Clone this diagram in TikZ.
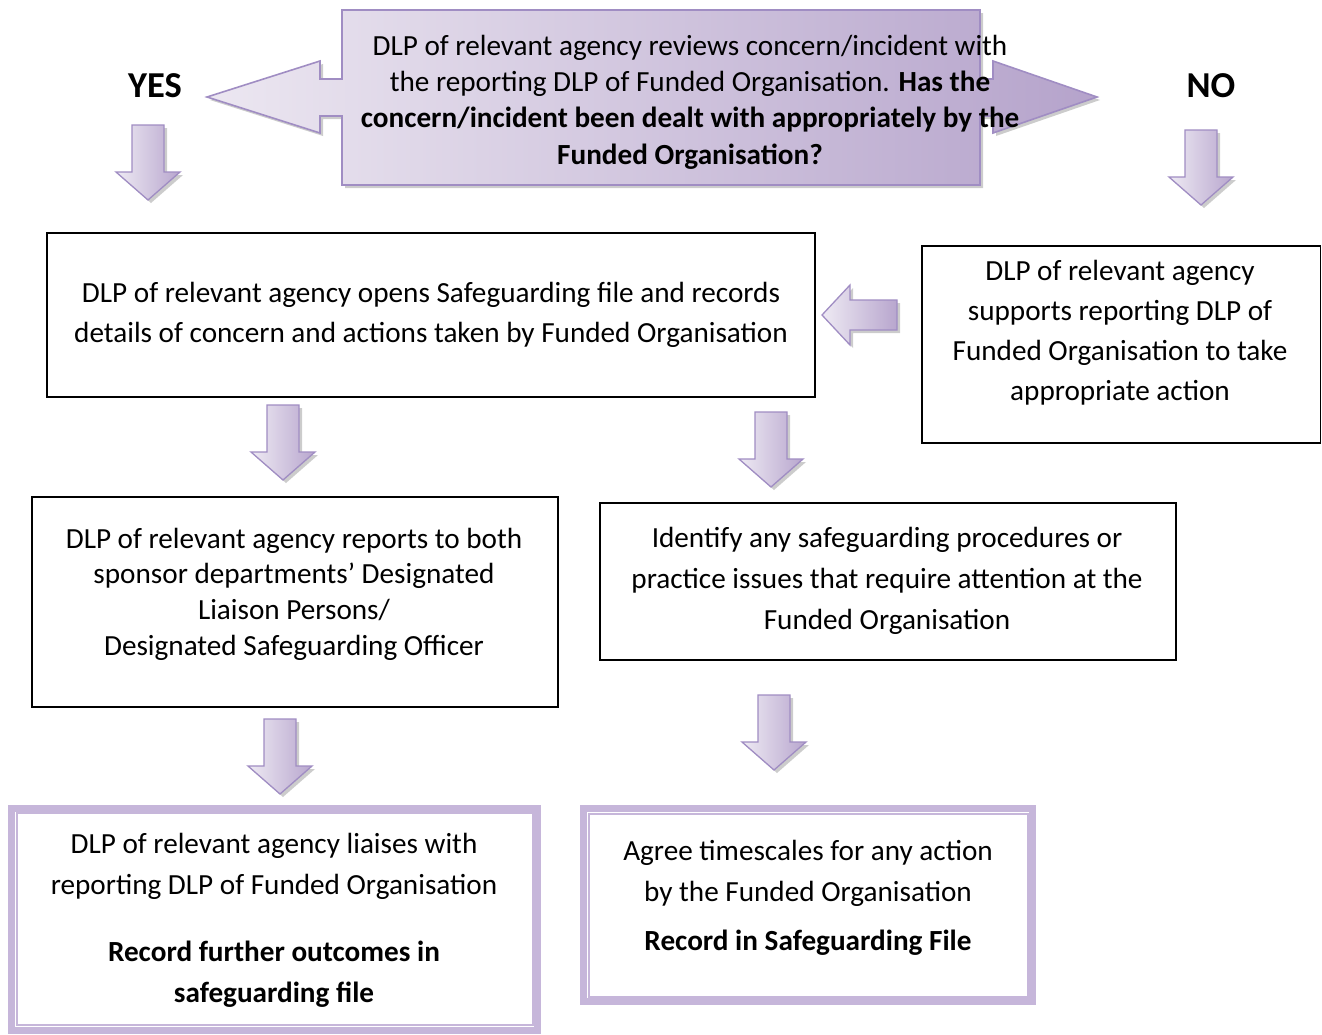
\documentclass[tikz,border=0pt]{standalone}
\usepackage{fontspec}
\setmainfont{Carlito}
\usetikzlibrary{shadows}
\definecolor{arrowline}{HTML}{A08DC3}
\definecolor{arrowlight}{HTML}{EEEAF3}
\definecolor{arrowdark}{HTML}{B8A6CE}
\definecolor{calllight}{HTML}{ECE7F1}
\definecolor{calldark}{HTML}{B5A3CB}
\definecolor{framelav}{HTML}{C6B6DA}
\tikzset{
  blockarrow/.style={draw=arrowline, line width=1.3pt, line join=miter,
    left color=arrowlight, right color=arrowdark,
    drop shadow={fill=black, opacity=0.2, shadow xshift=3pt, shadow yshift=-3pt}},
  plainbox/.style={draw=black, line width=1.1pt, rectangle, inner sep=0pt},
  framebox/.style={draw=framelav, line width=7pt, rectangle, inner sep=0pt},
  txt/.style={align=center, inner sep=0pt, font=\fontsize{29.2}{40}\selectfont},
  lbl/.style={inner sep=0pt, font=\fontsize{36.5}{40}\selectfont\bfseries},
}
\newcommand{\DownBlk}[2]{\path[blockarrow, shift={(#1,#2)}]
  (-16,0) -- (16,0) -- (16,47) -- (32,47) -- (0,75) -- (-32,47) -- (-16,47) -- cycle;}
\begin{document}
\begin{tikzpicture}[x=1pt,y=-1pt]
\useasboundingbox (0,0) rectangle (1322,1034);
\fill[white] (0,0) rectangle (1322,1034);

% top double-arrow callout
\path[draw=arrowline, line width=1.6pt, line join=miter,
    left color=calllight, right color=calldark,
    drop shadow={fill=black, opacity=0.2, shadow xshift=3pt, shadow yshift=-3pt}]
  (342,10) -- (980,10) -- (980,79) -- (993,79) -- (993,61) -- (1097,97)
  -- (993,133) -- (993,116) -- (980,116) -- (980,185) -- (342,185)
  -- (342,116) -- (320,116) -- (320,133) -- (207,97) -- (320,61)
  -- (320,79) -- (342,79) -- cycle;
\node[txt, font=\fontsize{29.2}{36.4}\selectfont] (t0) at (690,102)
  {DLP of relevant agency reviews concern/incident with\\
   the reporting DLP of Funded Organisation. \textbf{Has the}\\
   \textbf{concern/incident been dealt with appropriately by the}\\
   \textbf{Funded Organisation?}};
\node[lbl] (yes) at (155,86) {YES};
\node[lbl] (no) at (1211,86) {NO};

% down arrows under YES / NO
\DownBlk{148}{125}
\DownBlk{1201}{130}

% boxes
\node[plainbox, minimum width=768pt, minimum height=164pt] (b1) at (431,315) {};
\node[txt] (t1) at (431,315)
  {DLP of relevant agency opens Safeguarding file and records\\
   details of concern and actions taken by Funded Organisation};

\node[plainbox, minimum width=398.5pt, minimum height=197pt] (b2) at (1121.25,344.5) {};
\node[txt] (t2) at (1120,333)
  {DLP of relevant agency\\
   supports reporting DLP of\\
   Funded Organisation to take\\
   appropriate action};

% left-pointing arrow
\path[blockarrow] (822,315) -- (850,285) -- (850,300) -- (897,300)
  -- (897,330) -- (850,330) -- (850,345) -- cycle;

\DownBlk{283}{405}
\DownBlk{771}{412}

\node[plainbox, minimum width=526pt, minimum height=210pt] (b3) at (295,602) {};
\node[txt, font=\fontsize{29.2}{35.7}\selectfont] (t3) at (294,594)
  {DLP of relevant agency reports to both\\
   sponsor departments’ Designated\\
   Liaison Persons/\\
   Designated Safeguarding Officer};

\node[plainbox, minimum width=576pt, minimum height=157pt] (b4) at (888,581.5) {};
\node[txt, font=\fontsize{29.2}{41}\selectfont] (t4) at (887,581)
  {Identify any safeguarding procedures or\\
   practice issues that require attention at the\\
   Funded Organisation};

\DownBlk{280}{719}
\DownBlk{774}{695}

% framed boxes
\node[framebox, minimum width=526pt, minimum height=222pt] (b5) at (274.5,919) {};
\draw[framelav, line width=2pt] ([shift={(8.5,8.5)}]b5.north west)
  rectangle ([shift={(-8.5,-8.5)}]b5.south east);
\node[txt, font=\fontsize{29.2}{41}\selectfont] (t5) at (274,920)
  {DLP of relevant agency liaises with\\
   reporting DLP of Funded Organisation\\[26pt]
   \textbf{Record further outcomes in}\\
   \textbf{safeguarding file}};

\node[framebox, minimum width=449pt, minimum height=193pt] (b6) at (808,905) {};
\draw[framelav, line width=2pt] ([shift={(8.5,8.5)}]b6.north west)
  rectangle ([shift={(-8.5,-8.5)}]b6.south east);
\node[txt, font=\fontsize{29.2}{41}\selectfont] (t6) at (808,898)
  {Agree timescales for any action\\
   by the Funded Organisation\\[8pt]
   \textbf{Record in Safeguarding File}};
\end{tikzpicture}
\end{document}
